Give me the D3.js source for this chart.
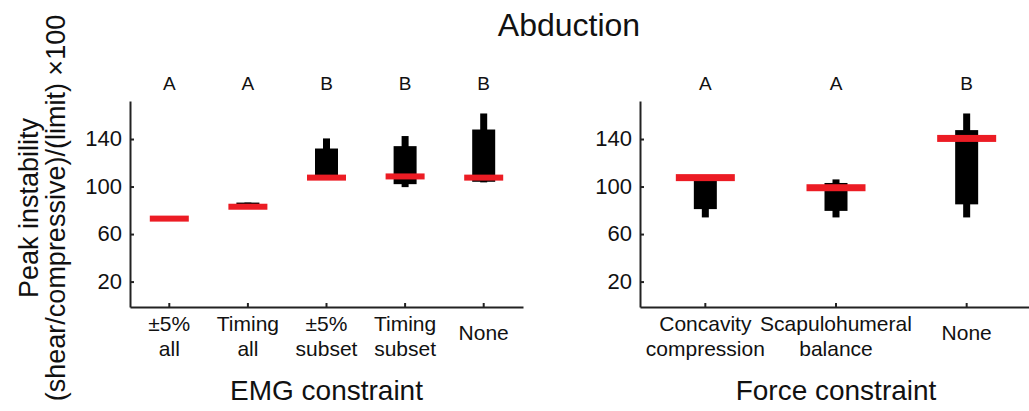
<!DOCTYPE html>
<html>
<head>
<meta charset="utf-8">
<script src="https://cdn.jsdelivr.net/npm/d3@7"></script>
<style>
  html, body { margin: 0; padding: 0; background: #fff; }
  svg { display: block; }
  text { font-family: "Liberation Sans", Arial, Helvetica, sans-serif; fill: #111; }
  .axis path, .axis line { stroke: #222; stroke-width: 2; }
</style>
</head>
<body>
<svg id="chart" width="1029" height="411"></svg>
<script>
// ---------- data ----------
const emgCategories = ["±5%\nall", "Timing\nall", "±5%\nsubset", "Timing\nsubset", "None"];
const emgLetters    = ["A", "A", "B", "B", "B"];
const emgMedian     = [73, 83, 107.5, 108.5, 107.5];
const emgBoxLow     = [73, 83, 106, 102, 104];
const emgBoxHigh    = [73, 86.5, 132, 134, 148];
const emgWhiskLow   = [73, 83, 106, 99.5, 103.5];
const emgWhiskHigh  = [73, 86.5, 140.5, 142.5, 161.5];

const forceCategories = ["Concavity\ncompression", "Scapulohumeral\nbalance", "None"];
const forceLetters    = ["A", "A", "B"];
const forceMedian     = [107.5, 99, 140.5];
const forceBoxLow     = [81, 79.5, 85];
const forceBoxHigh    = [105, 103, 147.5];
const forceWhiskLow   = [74, 74, 74];
const forceWhiskHigh  = [105, 106, 161.5];

const yTicks = [20, 60, 100, 140];
const titleText = "Abduction";
const yLabelLines = ["Peak instability", "(shear/compressive)/(limit) ×100"];
const emgTitle = "EMG constraint";
const forceTitle = "Force constraint";

// ---------- drawing ----------
const svg = d3.select("#chart");
const y = d3.scaleLinear().domain([-1.4, 172]).range([307, 101]);

function panel(cfg) {
  const x = d3.scaleBand().domain(cfg.cats).range(cfg.range).padding(0);
  const g = svg.append("g");

  // y axis
  g.append("g").attr("class", "axis")
    .attr("transform", `translate(${cfg.range[0]},0)`)
    .call(d3.axisLeft(y).tickValues(yTicks).tickSizeInner(-4).tickSizeOuter(0).tickPadding(8))
    .call(a => a.selectAll("text").attr("font-size", 22).attr("dy", "0.3em")
      .style("font-family", '"Liberation Sans", Arial, sans-serif').attr("fill", "#111"));

  // x axis
  g.append("g").attr("class", "axis")
    .attr("transform", `translate(0,307)`)
    .call(d3.axisBottom(x).tickSizeInner(-4).tickSizeOuter(0).tickFormat(""));

  const data = cfg.cats.map((c, i) => ({
    c, letter: cfg.letters[i], med: cfg.med[i], bl: cfg.bl[i], bh: cfg.bh[i], wl: cfg.wl[i], wh: cfg.wh[i]
  }));
  const cx = d => x(d.c) + x.bandwidth() / 2;

  // whiskers
  g.selectAll(".whisk").data(data).join("rect")
    .attr("x", d => cx(d) - 3.5).attr("width", 7)
    .attr("y", d => y(d.wh)).attr("height", d => Math.max(0, y(d.wl) - y(d.wh)))
    .attr("fill", "#000");
  // boxes
  g.selectAll(".box").data(data).join("rect")
    .attr("x", d => cx(d) - 11.5).attr("width", 23)
    .attr("y", d => y(d.bh)).attr("height", d => Math.max(0, y(d.bl) - y(d.bh)))
    .attr("fill", "#000");
  // medians
  g.selectAll(".med").data(data).join("rect")
    .attr("x", d => cx(d) - cfg.medW / 2).attr("width", cfg.medW)
    .attr("y", d => y(d.med) - cfg.medH / 2).attr("height", cfg.medH)
    .attr("fill", "#ec1c24");

  // letters
  g.selectAll(".letter").data(data).join("text")
    .attr("x", cx).attr("y", 90).attr("text-anchor", "middle")
    .attr("font-size", 19).text(d => d.letter);

  // category labels
  data.forEach(d => {
    const lines = d.c.split("\n");
    const t = g.append("text").attr("text-anchor", "middle").attr("font-size", 21);
    if (lines.length === 1) {
      t.attr("x", cx(d)).attr("y", 340).text(lines[0]);
    } else {
      lines.forEach((l, k) => t.append("tspan").attr("x", cx(d)).attr("y", 331 + k * 25).text(l));
    }
  });

  // axis title
  g.append("text").attr("x", (cfg.range[0] + cfg.range[1]) / 2).attr("y", 400)
    .attr("text-anchor", "middle").attr("font-size", 28).text(cfg.title);
}

panel({ cats: emgCategories, letters: emgLetters, med: emgMedian, bl: emgBoxLow, bh: emgBoxHigh,
        wl: emgWhiskLow, wh: emgWhiskHigh, range: [130, 523], medW: 39, medH: 6, title: emgTitle });
panel({ cats: forceCategories, letters: forceLetters, med: forceMedian, bl: forceBoxLow, bh: forceBoxHigh,
        wl: forceWhiskLow, wh: forceWhiskHigh, range: [640, 1032], medW: 59, medH: 7, title: forceTitle });

// title
svg.append("text").attr("x", 569).attr("y", 36).attr("text-anchor", "middle")
  .attr("font-size", 32).text(titleText);

// y label
const yl = [38, 65];
yLabelLines.forEach((l, k) => {
  svg.append("text").attr("transform", `translate(${yl[k]},208) rotate(-90)`)
    .attr("text-anchor", "middle").attr("font-size", 27).text(l);
});
</script>
</body>
</html>
